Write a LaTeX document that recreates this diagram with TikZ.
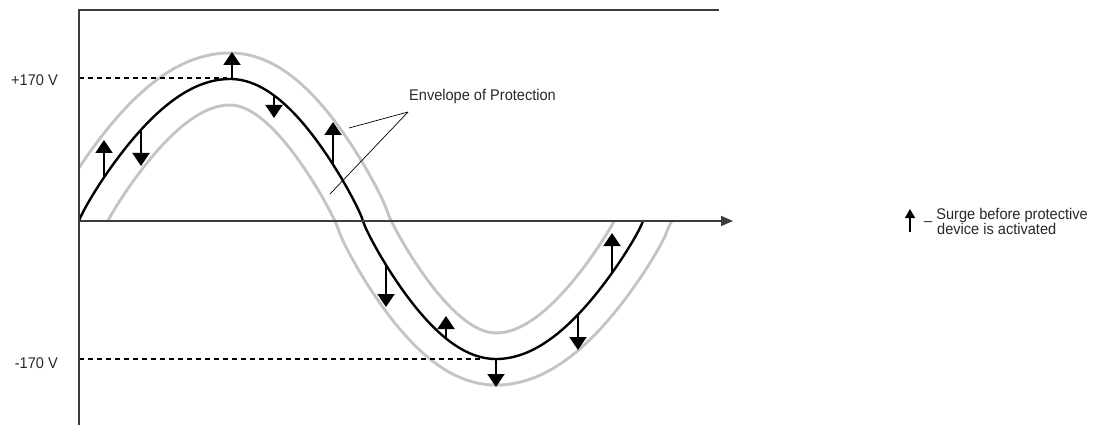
\documentclass[tikz,border=0pt]{standalone}
\usepackage{fontspec}
\setmainfont{Liberation Sans}[FakeStretch=0.94]
\usetikzlibrary{arrows.meta}
\definecolor{envgray}{RGB}{196,196,196}
\definecolor{axisc}{RGB}{60,60,60}
\definecolor{txt}{RGB}{40,40,40}
\begin{document}
\begin{tikzpicture}[x=1pt,y=-1pt,
  declare function={
    wx(\t)=79+151/90*min(\t,90)+133/90*max(min(\t,180)-90,0)+133/90*max(min(\t,270)-180,0)+147/90*max(\t-270,0);
    wy(\t)=221-(142-4*(\t>180))*sin(\t)*pow(abs(sin(\t))+0.0001,-0.13);
  },
  lbl/.style={font=\fontsize{15.5}{12.6}\selectfont, text=txt, inner sep=0pt},
  axisline/.style={draw=axisc, line width=1.8pt},
  envelope/.style={draw=envgray, line width=3pt, double=white, double distance=49pt, line join=round},
  wave/.style={draw=black, line width=2.4pt, line join=round},
  guide/.style={draw=black, line width=1.8pt, dash pattern=on 5pt off 4pt},
  surge/.style={draw=black, line width=2pt, -{Triangle[length=13pt,width=17pt]}},
  legendarrow/.style={draw=black, line width=1.5pt, -{Triangle[length=9pt,width=10pt]}},
  leader/.style={draw=black, line width=0.7pt}]
\useasboundingbox (0,0) rectangle (1109,425);

% envelope of protection (offset curves)
\begin{scope}
  \clip (79,0) -- (79,221) -- (300,221) -- (300,425) -- (760,425) -- (760,221) -- (560,221) -- (560,0) -- cycle;
  \draw[envelope] plot[domain=-35:395, samples=431] ({wx(\x)},{wy(\x)});
\end{scope}

% main wave
\draw[wave] plot[domain=0:360, samples=361] ({wx(\x)},{wy(\x)});

% guide lines
\coordinate (pk1) at (79,78);
\coordinate (pk2) at (227,78);
\coordinate (tr1) at (79,359);
\coordinate (tr2) at (480,359);
\draw[guide] (pk1) -- (pk2);
\draw[guide] (tr1) -- (tr2);

% axes
\coordinate (ytop) at (79,10);
\coordinate (ybot) at (79,425);
\coordinate (ttop) at (719,10);
\coordinate (xo) at (79,221);
\coordinate (xend) at (733,221);
\draw[axisline] (ttop) -- (ytop) -- (ybot);
\draw[axisline, -{Triangle[length=12pt,width=10pt]}] (xo) -- (xend);

% surge arrows
\draw[surge] (104,178) -- (104,140);
\draw[surge] (141,129) -- (141,166);
\draw[surge] (232,79) -- (232,52);
\draw[surge] (274,95) -- (274,118);
\draw[surge] (333,165) -- (333,122);
\draw[surge] (386,265) -- (386,307);
\draw[surge] (446,339) -- (446,316);
\draw[surge] (496,359) -- (496,387);
\draw[surge] (578,315) -- (578,350);
\draw[surge] (612,274) -- (612,233);

% labels
\node[lbl, anchor=base east] (pv) at (58,86) {+170 V};
\node[lbl, anchor=base east] (nv) at (58,368) {-170 V};
\node[lbl, anchor=base west] (env) at (409,100.7) {Envelope of Protection};
\coordinate (envfoot) at (408,112);
\coordinate (envA) at (349,128);
\coordinate (envB) at (330,194);
\draw[leader] (envfoot) -- (envA);
\draw[leader] (envfoot) -- (envB);

% legend
\coordinate (lga) at (910,232);
\coordinate (lgb) at (910,209);
\draw[legendarrow] (lga) -- (lgb);
\node[lbl, anchor=base west] (lg1) at (924,219.4) {\_ Surge before protective};
\node[lbl, anchor=base west] (lg2) at (937,234.4) {device is activated};
\end{tikzpicture}
\end{document}
